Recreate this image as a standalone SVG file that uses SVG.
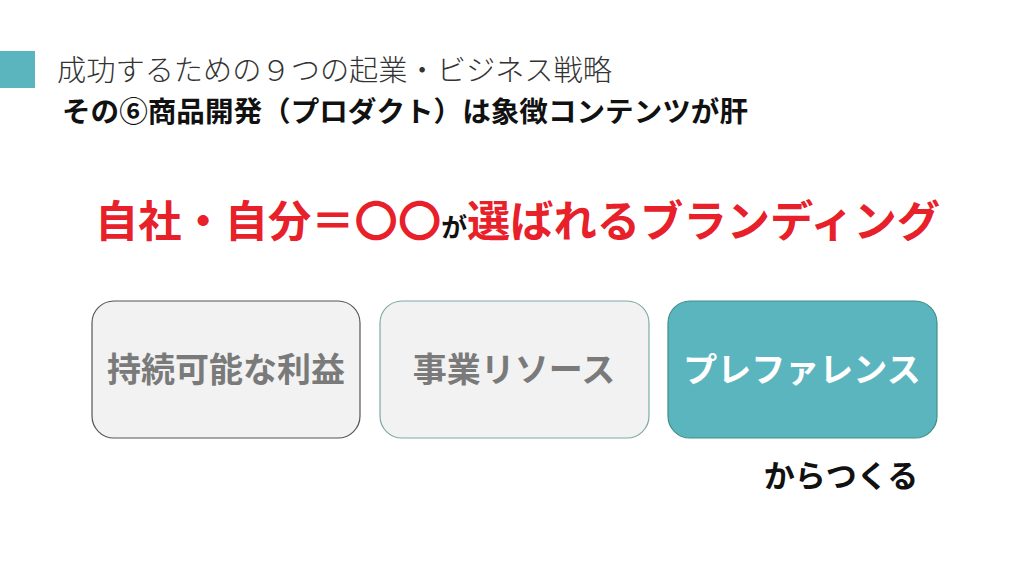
<svg xmlns="http://www.w3.org/2000/svg" width="1024" height="575" viewBox="0 0 1024 575">
<style>
.jp{font-family:"Noto Sans CJK JP","Noto Sans CJK SC",sans-serif}
.box{stroke-width:1.2}
.lbl{font-size:34px;font-weight:700;text-anchor:middle}
</style>
<rect width="1024" height="575" fill="#ffffff"/>
<rect x="0" y="51" width="35" height="37" fill="#5BB5BE"/>
<text class="jp" x="57" y="81" font-size="29" font-weight="300" fill="#333333" textLength="555" lengthAdjust="spacingAndGlyphs">成功するための９つの起業・ビジネス戦略</text>
<text class="jp" x="62" y="122" font-size="28" font-weight="700" fill="#111111" textLength="686" lengthAdjust="spacingAndGlyphs">その⑥商品開発（プロダクト）は象徴コンテンツが肝</text>
<text class="jp" x="95" y="237" font-size="43.5" font-weight="700" fill="#E8202A" textLength="845" lengthAdjust="spacingAndGlyphs"><tspan>自社・自分＝〇〇</tspan><tspan font-size="26" fill="#111111">が</tspan><tspan>選ばれるブランディング</tspan></text>
<g id="node1">
<rect class="box" x="92" y="301" width="268" height="137" rx="22" fill="#F2F2F2" stroke="#555555"/>
<text class="jp lbl" x="226" y="382" fill="#7A7A7A">持続可能な利益</text>
</g>
<g id="node2">
<rect class="box" x="380" y="301" width="269" height="137" rx="22" fill="#F2F2F2" stroke="#7FA9A5"/>
<text class="jp lbl" x="514" y="382" fill="#7A7A7A">事業リソース</text>
</g>
<g id="node3">
<rect class="box" x="668" y="301" width="269" height="137" rx="22" fill="#5BB5BE" stroke="#3F8F88"/>
<text class="jp lbl" x="802" y="382" fill="#FFFFFF" font-weight="500">プレファレンス</text>
</g>
<g id="connectors"></g>
<text class="jp" x="841" y="487" font-size="31" font-weight="700" fill="#111111" text-anchor="middle">からつくる</text>
</svg>
